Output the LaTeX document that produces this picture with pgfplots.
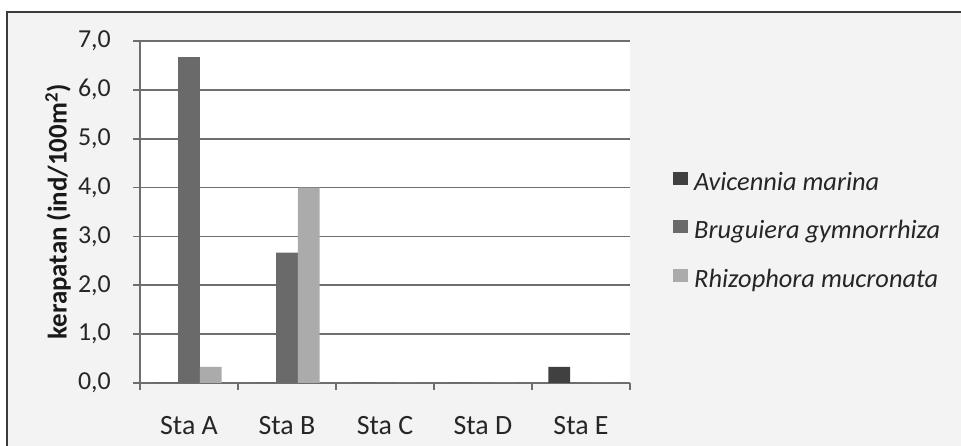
\documentclass[border=0pt]{standalone}
\usepackage{fontspec}
\setmainfont{Carlito}
\usepackage{pgfplots}
\pgfplotsset{compat=1.18}
\definecolor{bg}{HTML}{F3F3F3}
\definecolor{cA}{HTML}{404040}
\definecolor{cB}{HTML}{6A6A6A}
\definecolor{cR}{HTML}{ABABAB}
\definecolor{gridc}{HTML}{6E6E6E}
\definecolor{framec}{HTML}{3A3A3A}
\begin{document}
\begin{tikzpicture}
\useasboundingbox (0bp,0bp) rectangle (961bp,446bp);
\fill[white] (0bp,0bp) rectangle (961bp,446bp);
\fill[bg] (7bp,-5bp) rectangle (966bp,434bp);
\draw[framec, line width=1.5bp] (7bp,-5bp) -- (7bp,434bp) -- (966bp,434bp);
\begin{axis}[
  at={(140bp,63bp)}, anchor=south west,
  scale only axis, width=490bp, height=342bp,
  xmin=0.5, xmax=5.5, ymin=0, ymax=7,
  axis background/.style={fill=white},
  axis x line=bottom, axis y line=left,
  axis line style={-, gridc, line width=1.8bp},
  ytick={0,1,...,7},
  xtick={0.5,1.5,...,5.5},
  xticklabels={Sta A, Sta B, Sta C, Sta D, Sta E},
  x tick label as interval,
  tick align=outside, major tick length=7bp,
  tick style={gridc, line width=1.8bp},
  ymajorgrids, grid style={gridc, line width=1.8bp},
  /pgf/number format/assume math mode=true,
  ticklabel style={text=black!85},
  yticklabel style={font=\fontsize{26}{30}\selectfont, anchor=east, inner sep=0pt, xshift=-22bp,
    /pgf/number format/fixed, /pgf/number format/fixed zerofill,
    /pgf/number format/precision=1, /pgf/number format/use comma},
  xticklabel style={font=\fontsize{28}{32}\selectfont, anchor=base, inner sep=0pt, yshift=-44bp},
  ylabel={kerapatan (ind/100m\textsuperscript{2})},
  every axis y label/.style={at={(axis description cs:-0.167,0.5)}, anchor=center, rotate=90, font=\fontsize{27}{30}\selectfont\bfseries, text=black!90},
  ybar=0pt, bar width=21.7bp,
  every axis plot post/.append style={legend image code/.code={\fill[##1] (0bp,-1bp) rectangle (15bp,12bp);}},
  legend cell align=left,
  legend style={at={(1.0878,0.4415)}, anchor=west, draw=none, fill=none, inner sep=0pt,
    font=\fontsize{26.5}{30}\selectfont\itshape, text=black!85, row sep=21.5bp, column sep=6bp,
    nodes={inner sep=0pt, text height=20bp, text depth=7bp}},
]
\addplot[fill=cA, draw=none] coordinates {(1,0) (2,0) (3,0) (4,0) (5,0.33)};
\addplot[fill=cB, draw=none] coordinates {(1,6.67) (2,2.67) (3,0) (4,0) (5,0)};
\addplot[fill=cR, draw=none] coordinates {(1,0.33) (2,4.0) (3,0) (4,0) (5,0)};
\legend{Avicennia marina, Bruguiera gymnorrhiza, Rhizophora mucronata}
\end{axis}
\end{tikzpicture}
\end{document}
